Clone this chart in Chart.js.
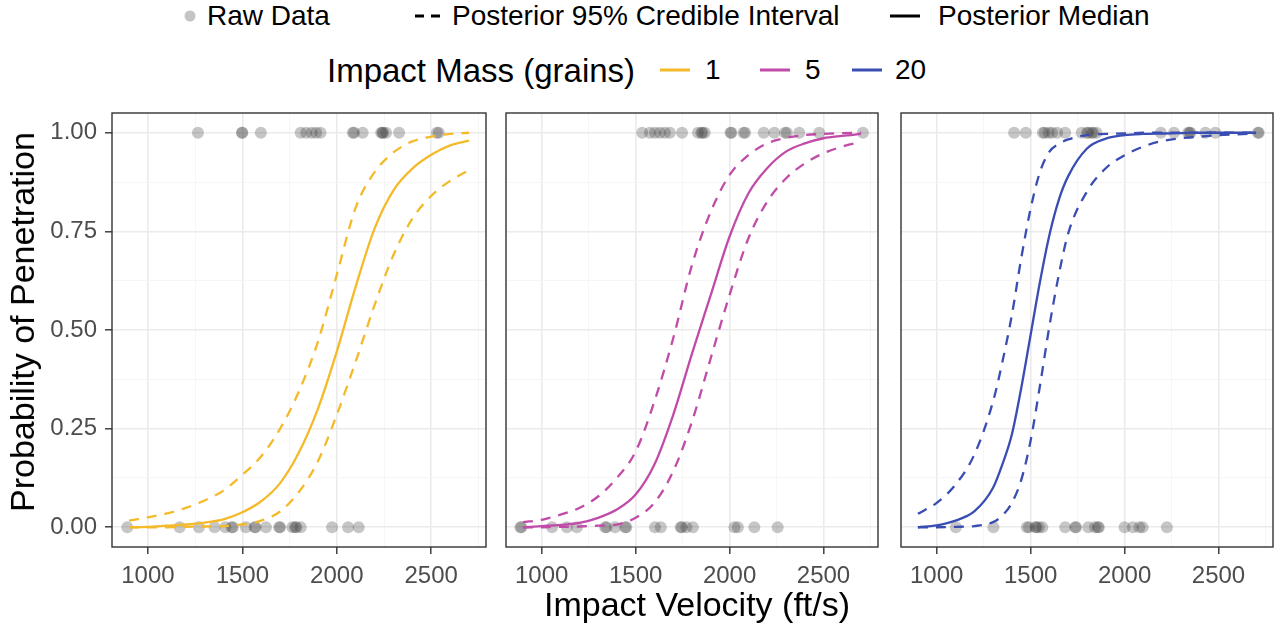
<!DOCTYPE html>
<html>
<head>
<meta charset="utf-8">
<script src="https://cdn.jsdelivr.net/npm/chart.js@4.4.1/dist/chart.umd.min.js"></script>
<style>
    body {
        margin: 0;
        width: 1279px;
        height: 628px;
        background: #fff;
        position: relative;
        overflow: hidden;
        font-family: 'Liberation Sans', Arial, sans-serif;
    }
    canvas { position: absolute; top: 100px; }
    .lg { position: absolute; white-space: nowrap; color: #000; line-height: 1; }
    .lg-text { font-size: 28px; transform: translateY(-50%); }
    .lg-title { font-size: 33px; transform: translateY(-50%); }
    .lg-bar { position: absolute; height: 3px; transform: translateY(-50%); }
    .lg-dot { position: absolute; width: 11px; height: 11px; border-radius: 50%; background: #c4c4c4; transform: translate(-50%, -50%); }
    #x-title { position: absolute; left: 0; width: 1394px; text-align: center; top: 587px; font-size: 34px; line-height: 1; }
    #y-title {
        position: absolute; left: 22px; top: 322px; font-size: 34px; line-height: 1; white-space: nowrap;
        transform: translate(-50%, -50%) rotate(-90deg);
    }
</style>
</head>
<body>
<!-- Leyenda superior -->
<div class="lg-dot" style="left:190px; top:16px;"></div>
<div class="lg lg-text" style="left:207px; top:16px;">Raw Data</div>
<div class="lg-bar" style="left:415px; top:16px; width:9px; background:#000;"></div>
<div class="lg-bar" style="left:431px; top:16px; width:9px; background:#000;"></div>
<div class="lg lg-text" style="left:452px; top:16px;">Posterior 95% Credible Interval</div>
<div class="lg-bar" style="left:890px; top:16px; width:30px; background:#000;"></div>
<div class="lg lg-text" style="left:938px; top:16px;">Posterior Median</div>

<div class="lg lg-title" style="left:327px; top:70px;">Impact Mass (grains)</div>
<div class="lg-bar" style="left:660px; top:70px; width:30px; background:#F4BA2A;"></div>
<div class="lg lg-text" style="left:705px; top:70px;">1</div>
<div class="lg-bar" style="left:760px; top:70px; width:30px; background:#C04BA8;"></div>
<div class="lg lg-text" style="left:805px; top:70px;">5</div>
<div class="lg-bar" style="left:852px; top:70px; width:30px; background:#3A4DB2;"></div>
<div class="lg lg-text" style="left:895px; top:70px;">20</div>

<canvas id="panel1" width="492" height="490" style="left:0px;"></canvas>
<canvas id="panel2" width="384" height="490" style="left:500px;"></canvas>
<canvas id="panel3" width="384" height="490" style="left:895px;"></canvas>

<div id="y-title">Probability of Penetration</div>
<div id="x-title">Impact Velocity (ft/s)</div>

<script>
// Ejes: ticks mayores y menores
const xMajor = [1000, 1500, 2000, 2500];
const xMinor = [1250, 1750, 2250, 2750];
const yMajor = [0, 0.25, 0.5, 0.75, 1];
const yMinor = [0.125, 0.375, 0.625, 0.875];

// Velocidades de las curvas
const vel100 = [900, 1000, 1100, 1200, 1300, 1400, 1500, 1600, 1700, 1800, 1900, 2000, 2100, 2200, 2300, 2400, 2500, 2600, 2700];
const vel20 = [900, 1000, 1100, 1200, 1300, 1350, 1400, 1450, 1500, 1550, 1600, 1650, 1700, 1800, 1900, 2000, 2100, 2200, 2300, 2400, 2500, 2600, 2700];

// Masa 1 grano
const median1 = [0.0, 0.001, 0.004, 0.007, 0.012, 0.02, 0.038, 0.066, 0.112, 0.19, 0.30, 0.445, 0.61, 0.757, 0.854, 0.909, 0.944, 0.968, 0.98];
const upper1 = [0.017, 0.025, 0.035, 0.049, 0.068, 0.093, 0.133, 0.18, 0.25, 0.345, 0.47, 0.64, 0.81, 0.9, 0.95, 0.978, 0.99, 0.997, 1.0];
const lower1 = [0.0, 0.0, 0.0, 0.001, 0.002, 0.003, 0.007, 0.017, 0.04, 0.09, 0.167, 0.285, 0.42, 0.563, 0.69, 0.782, 0.84, 0.878, 0.905];
const hits1 = [1265, 1498, 1500, 1598, 1809, 1838, 1867, 1891, 1914, 2085, 2092, 2137, 2235, 2242, 2245, 2261, 2330, 2530, 2540];
const misses1 = [891, 1168, 1270, 1353, 1410, 1444, 1450, 1519, 1565, 1570, 1625, 1695, 1700, 1765, 1780, 1786, 1809, 1975, 2060, 2116];

// Masa 5 granos
const median5 = [0.0, 0.003, 0.006, 0.011, 0.024, 0.045, 0.083, 0.159, 0.285, 0.44, 0.589, 0.737, 0.846, 0.91, 0.952, 0.973, 0.986, 0.992, 0.997];
const upper5 = [0.013, 0.019, 0.032, 0.049, 0.078, 0.125, 0.192, 0.319, 0.479, 0.665, 0.8, 0.893, 0.943, 0.973, 0.987, 0.994, 0.997, 0.999, 1.0];
const lower5 = [0.0, 0.0, 0.001, 0.002, 0.004, 0.007, 0.024, 0.062, 0.142, 0.268, 0.429, 0.589, 0.732, 0.825, 0.884, 0.922, 0.948, 0.965, 0.977];
const hits5 = [1535, 1576, 1603, 1629, 1656, 1682, 1747, 1832, 1850, 1856, 1868, 2005, 2010, 2075, 2083, 2182, 2238, 2295, 2305, 2371, 2477, 2710];
const misses5 = [887, 892, 1055, 1134, 1187, 1338, 1345, 1391, 1445, 1450, 1603, 1634, 1740, 1746, 1770, 1805, 2026, 2044, 2132, 2256];

// Masa 20 granos
const median20 = [0.0, 0.005, 0.017, 0.04, 0.1, 0.16, 0.235, 0.353, 0.488, 0.623, 0.741, 0.83, 0.89, 0.96, 0.985, 0.994, 0.997, 0.998, 0.999, 1.0, 1.0, 1.0, 1.0];
const upper20 = [0.034, 0.062, 0.108, 0.184, 0.319, 0.42, 0.538, 0.682, 0.808, 0.901, 0.952, 0.972, 0.983, 0.994, 0.997, 0.998, 1.0, 1.0, 1.0, 1.0, 1.0, 1.0, 1.0];
const lower20 = [0.0, 0.0, 0.001, 0.003, 0.013, 0.03, 0.062, 0.12, 0.22, 0.36, 0.51, 0.64, 0.745, 0.851, 0.91, 0.943, 0.965, 0.979, 0.986, 0.99, 0.994, 0.996, 0.998];
const hits20 = [1412, 1474, 1565, 1575, 1596, 1614, 1641, 1684, 1772, 1800, 1807, 1825, 1833, 1851, 2193, 2263, 2338, 2346, 2351, 2430, 2483, 2710, 2714];
const misses20 = [1102, 1302, 1480, 1491, 1526, 1530, 1544, 1562, 1684, 1737, 1742, 1807, 1842, 1858, 1863, 2000, 2044, 2079, 2096, 2225];

// Colores del tema
const themeColors = {
    mass1: '#F4BA2A',
    mass5: '#C04BA8',
    mass20: '#3A4DB2',
    points: 'rgba(50, 50, 50, 0.28)',
    border: '#333333',
    gridMajor: '#ebebeb',
    gridMinor: '#f4f4f4',
    tickText: '#4d4d4d'
};

const fontFamily = "'Liberation Sans', Arial, sans-serif";

// Borde del panel (estilo theme_bw)
const panelBorder = {
    id: 'panelBorder',
    afterDraw(chart) {
        const { ctx, chartArea: a } = chart;
        ctx.save();
        ctx.strokeStyle = themeColors.border;
        ctx.lineWidth = 1.4;
        ctx.strokeRect(a.left, a.top, a.right - a.left, a.bottom - a.top);
        ctx.restore();
    }
};

function toPoints(xs, ys) {
    return xs.map((x, i) => ({ x: x, y: ys[i] }));
}

function curve(xs, ys, color, dashed) {
    return {
        type: 'line',
        data: toPoints(xs, ys),
        borderColor: color,
        borderWidth: 2.3,
        borderDash: dashed ? [10, 8] : [],
        pointRadius: 0,
        cubicInterpolationMode: 'monotone',
        fill: false,
        order: 1
    };
}

// Crear un panel
function createPanel(id, vel, median, lower, upper, hits, misses, color, showY) {
    const ctx = document.getElementById(id).getContext('2d');
    const raw = hits.map(v => ({ x: v, y: 1 })).concat(misses.map(v => ({ x: v, y: 0 })));

    return new Chart(ctx, {
        type: 'line',
        data: {
            datasets: [
                curve(vel, median, color, false),
                curve(vel, lower, color, true),
                curve(vel, upper, color, true),
                {
                    type: 'scatter',
                    data: raw,
                    backgroundColor: themeColors.points,
                    borderWidth: 0,
                    pointRadius: 6,
                    order: 2
                }
            ]
        },
        options: {
            responsive: false,
            animation: false,
            layout: {
                padding: { top: 13, right: showY ? 5 : 3, left: 0, bottom: 0 }
            },
            plugins: {
                legend: { display: false },
                tooltip: { enabled: false }
            },
            scales: {
                x: {
                    type: 'linear',
                    min: 810,
                    max: 2790,
                    afterBuildTicks: axis => {
                        axis.ticks = xMajor.concat(xMinor).sort((a, b) => a - b).map(v => ({ value: v }));
                    },
                    afterFit: scale => {
                        scale.height = 43;
                        scale.paddingLeft = 0;
                        scale.paddingRight = 0;
                    },
                    border: { display: false },
                    grid: {
                        color: c => xMajor.includes(c.tick.value) ? themeColors.gridMajor : themeColors.gridMinor,
                        lineWidth: c => xMajor.includes(c.tick.value) ? 1.6 : 0.8,
                        tickColor: c => xMajor.includes(c.tick.value) ? themeColors.border : 'rgba(0,0,0,0)',
                        tickLength: 7,
                        tickWidth: 1.4
                    },
                    ticks: {
                        autoSkip: false,
                        maxRotation: 0,
                        padding: 8,
                        color: themeColors.tickText,
                        font: { family: fontFamily, size: 24 },
                        callback: v => xMajor.includes(v) ? String(v) : ''
                    }
                },
                y: {
                    type: 'linear',
                    min: -0.05,
                    max: 1.05,
                    afterBuildTicks: axis => {
                        axis.ticks = yMajor.concat(yMinor).sort((a, b) => a - b).map(v => ({ value: v }));
                    },
                    afterFit: scale => {
                        scale.width = showY ? 112 : 6;
                        scale.paddingTop = 0;
                        scale.paddingBottom = 0;
                    },
                    border: { display: false },
                    grid: {
                        color: c => yMajor.includes(c.tick.value) ? themeColors.gridMajor : themeColors.gridMinor,
                        lineWidth: c => yMajor.includes(c.tick.value) ? 1.6 : 0.8,
                        tickColor: c => (showY && yMajor.includes(c.tick.value)) ? themeColors.border : 'rgba(0,0,0,0)',
                        drawTicks: showY,
                        tickLength: 7,
                        tickWidth: 1.4
                    },
                    ticks: {
                        display: showY,
                        autoSkip: false,
                        padding: 8,
                        color: themeColors.tickText,
                        font: { family: fontFamily, size: 24 },
                        callback: v => yMajor.includes(v) ? v.toFixed(2) : ''
                    }
                }
            }
        },
        plugins: [panelBorder]
    });
}

createPanel('panel1', vel100, median1, lower1, upper1, hits1, misses1, themeColors.mass1, true);
createPanel('panel2', vel100, median5, lower5, upper5, hits5, misses5, themeColors.mass5, false);
createPanel('panel3', vel20, median20, lower20, upper20, hits20, misses20, themeColors.mass20, false);
</script>
</body>
</html>
